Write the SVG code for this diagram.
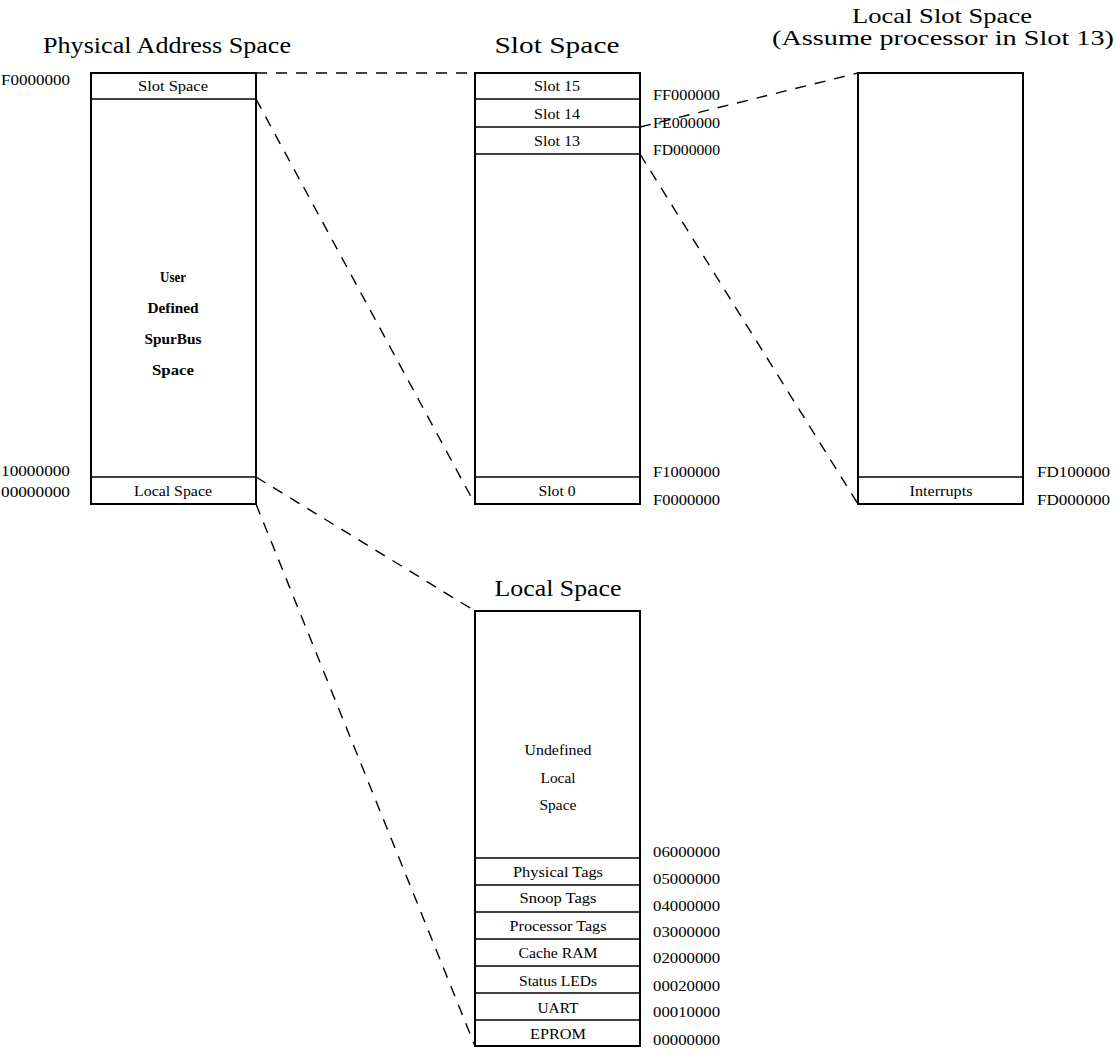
<svg xmlns="http://www.w3.org/2000/svg" width="1116" height="1050" viewBox="0 0 1116 1050">
<style>
text{font-family:"Liberation Serif","Times New Roman",serif;fill:#000}
.title{font-size:24px;text-anchor:middle}
.title2{font-size:21px;text-anchor:middle}
.lbl{font-size:14px;text-anchor:middle}
.b{font-weight:bold}
.addr{font-size:14px}
.box{fill:#fff;stroke:#000;stroke-width:2}
.div{stroke:#000;stroke-width:1.5}
.dash{fill:none;stroke:#000;stroke-width:1.4;stroke-dasharray:11 9}
</style>
<rect width="1116" height="1050" fill="#fff"/>

<g id="connectors">
<line class="dash" x1="256" y1="73" x2="475" y2="73"/>
<line class="dash" x1="256" y1="99" x2="475" y2="504"/>
<line class="dash" x1="640" y1="127" x2="858" y2="73"/>
<line class="dash" x1="640" y1="154" x2="858" y2="504"/>
<line class="dash" x1="256" y1="477" x2="475" y2="611"/>
<line class="dash" x1="256" y1="504" x2="475" y2="1046"/>
</g>

<g id="physical-address-space">
<text class="title" x="167" y="53" textLength="248" lengthAdjust="spacingAndGlyphs">Physical Address Space</text>
<rect class="box" x="91" y="73" width="165" height="431"/>
<line class="div" x1="91" y1="99" x2="256" y2="99"/>
<line class="div" x1="91" y1="477" x2="256" y2="477"/>
<text class="lbl" x="173" y="91" textLength="70" lengthAdjust="spacingAndGlyphs">Slot Space</text>
<text class="lbl b" x="173" y="282" textLength="26" lengthAdjust="spacingAndGlyphs">User</text>
<text class="lbl b" x="173" y="313" textLength="51" lengthAdjust="spacingAndGlyphs">Defined</text>
<text class="lbl b" x="173" y="344" textLength="57" lengthAdjust="spacingAndGlyphs">SpurBus</text>
<text class="lbl b" x="173" y="375" textLength="42" lengthAdjust="spacingAndGlyphs">Space</text>
<text class="lbl" x="173" y="496" textLength="78" lengthAdjust="spacingAndGlyphs">Local Space</text>
<text class="addr" x="1" y="85" textLength="69" lengthAdjust="spacingAndGlyphs">F0000000</text>
<text class="addr" x="1" y="476" textLength="69" lengthAdjust="spacingAndGlyphs">10000000</text>
<text class="addr" x="1" y="497" textLength="69" lengthAdjust="spacingAndGlyphs">00000000</text>
</g>

<g id="slot-space">
<text class="title" x="557" y="53" textLength="125" lengthAdjust="spacingAndGlyphs">Slot Space</text>
<rect class="box" x="475" y="73" width="165" height="431"/>
<line class="div" x1="475" y1="99" x2="640" y2="99"/>
<line class="div" x1="475" y1="127" x2="640" y2="127"/>
<line class="div" x1="475" y1="154" x2="640" y2="154"/>
<line class="div" x1="475" y1="477" x2="640" y2="477"/>
<text class="lbl" x="557" y="91" textLength="46" lengthAdjust="spacingAndGlyphs">Slot 15</text>
<text class="lbl" x="557" y="119" textLength="46" lengthAdjust="spacingAndGlyphs">Slot 14</text>
<text class="lbl" x="557" y="146" textLength="46" lengthAdjust="spacingAndGlyphs">Slot 13</text>
<text class="lbl" x="557" y="496" textLength="37" lengthAdjust="spacingAndGlyphs">Slot 0</text>
<text class="addr" x="653" y="100" textLength="67" lengthAdjust="spacingAndGlyphs">FF000000</text>
<text class="addr" x="653" y="128" textLength="67" lengthAdjust="spacingAndGlyphs">FE000000</text>
<text class="addr" x="653" y="155" textLength="67" lengthAdjust="spacingAndGlyphs">FD000000</text>
<text class="addr" x="653" y="477" textLength="67" lengthAdjust="spacingAndGlyphs">F1000000</text>
<text class="addr" x="653" y="505" textLength="67" lengthAdjust="spacingAndGlyphs">F0000000</text>
</g>

<g id="local-slot-space">
<text class="title2" x="942" y="23" textLength="180" lengthAdjust="spacingAndGlyphs">Local Slot Space</text>
<text class="title2" x="943" y="45" textLength="342" lengthAdjust="spacingAndGlyphs">(Assume processor in Slot 13)</text>
<rect class="box" x="858" y="73" width="165" height="431"/>
<line class="div" x1="858" y1="477" x2="1023" y2="477"/>
<text class="lbl" x="941" y="496" textLength="63" lengthAdjust="spacingAndGlyphs">Interrupts</text>
<text class="addr" x="1037" y="477" textLength="73" lengthAdjust="spacingAndGlyphs">FD100000</text>
<text class="addr" x="1037" y="505" textLength="73" lengthAdjust="spacingAndGlyphs">FD000000</text>
</g>

<g id="local-space">
<text class="title" x="558" y="596" textLength="127" lengthAdjust="spacingAndGlyphs">Local Space</text>
<rect class="box" x="475" y="611" width="165" height="435"/>
<line class="div" x1="475" y1="858" x2="640" y2="858"/>
<line class="div" x1="475" y1="885" x2="640" y2="885"/>
<line class="div" x1="475" y1="912" x2="640" y2="912"/>
<line class="div" x1="475" y1="939" x2="640" y2="939"/>
<line class="div" x1="475" y1="966" x2="640" y2="966"/>
<line class="div" x1="475" y1="993" x2="640" y2="993"/>
<line class="div" x1="475" y1="1020" x2="640" y2="1020"/>
<text class="lbl" x="558" y="755" textLength="67" lengthAdjust="spacingAndGlyphs">Undefined</text>
<text class="lbl" x="558" y="783" textLength="35" lengthAdjust="spacingAndGlyphs">Local</text>
<text class="lbl" x="558" y="810" textLength="37" lengthAdjust="spacingAndGlyphs">Space</text>
<text class="lbl" x="558" y="877" textLength="90" lengthAdjust="spacingAndGlyphs">Physical Tags</text>
<text class="lbl" x="558" y="903" textLength="77" lengthAdjust="spacingAndGlyphs">Snoop Tags</text>
<text class="lbl" x="558" y="931" textLength="97" lengthAdjust="spacingAndGlyphs">Processor Tags</text>
<text class="lbl" x="558" y="958" textLength="79" lengthAdjust="spacingAndGlyphs">Cache RAM</text>
<text class="lbl" x="558" y="986" textLength="78" lengthAdjust="spacingAndGlyphs">Status LEDs</text>
<text class="lbl" x="558" y="1013" textLength="41" lengthAdjust="spacingAndGlyphs">UART</text>
<text class="lbl" x="558" y="1039" textLength="56" lengthAdjust="spacingAndGlyphs">EPROM</text>
<text class="addr" x="653" y="857" textLength="67" lengthAdjust="spacingAndGlyphs">06000000</text>
<text class="addr" x="653" y="884" textLength="67" lengthAdjust="spacingAndGlyphs">05000000</text>
<text class="addr" x="653" y="911" textLength="67" lengthAdjust="spacingAndGlyphs">04000000</text>
<text class="addr" x="653" y="937" textLength="67" lengthAdjust="spacingAndGlyphs">03000000</text>
<text class="addr" x="653" y="963" textLength="67" lengthAdjust="spacingAndGlyphs">02000000</text>
<text class="addr" x="653" y="991" textLength="67" lengthAdjust="spacingAndGlyphs">00020000</text>
<text class="addr" x="653" y="1017" textLength="67" lengthAdjust="spacingAndGlyphs">00010000</text>
<text class="addr" x="653" y="1045" textLength="67" lengthAdjust="spacingAndGlyphs">00000000</text>
</g>
</svg>
